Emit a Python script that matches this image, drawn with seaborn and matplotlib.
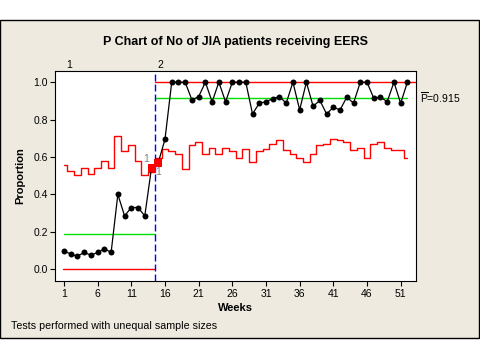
import numpy as np
import pandas as pd
import matplotlib
matplotlib.use("Agg")
import matplotlib.pyplot as plt
from matplotlib.patches import Rectangle
import seaborn as sns

# ---- data ----
weeks = list(range(1, 53))
proportion = [0.10, 0.08, 0.07, 0.09, 0.075, 0.09, 0.11, 0.09, 0.40, 0.285,
              0.33, 0.33, 0.285, 0.543,
              0.57, 0.695, 1.0, 1.0, 1.0, 0.905, 0.923, 1.0, 0.895, 1.0,
              0.895, 1.0, 1.0, 1.0, 0.83, 0.888, 0.896, 0.912, 0.923, 0.888,
              1.0, 0.852, 1.0, 0.871, 0.903, 0.83, 0.866, 0.852, 0.92, 0.888,
              1.0, 1.0, 0.915, 0.92, 0.896, 1.0, 0.888, 1.0]
stage = [1] * 14 + [2] * 38
stage_labels = ["1", "2"]
center_stage1 = 0.19
center_stage2 = 0.915
lcl_stage1 = 0.0
ucl_stage2 = 1.0
ucl_stage1 = [0.556, 0.524, 0.503, 0.540, 0.510, 0.540, 0.578, 0.540, 0.713,
              0.631, 0.666, 0.578, 0.503, 0.52]
lcl_stage2 = [0.594, 0.642, 0.634, 0.617, 0.535, 0.665, 0.679, 0.617, 0.647,
              0.617, 0.647, 0.634, 0.594, 0.642, 0.572, 0.634, 0.645, 0.668,
              0.690, 0.636, 0.615, 0.594, 0.572, 0.615, 0.665, 0.670, 0.695,
              0.690, 0.679, 0.636, 0.647, 0.594, 0.668, 0.679, 0.647, 0.636,
              0.636, 0.594]
xtick_weeks = [1, 6, 11, 16, 21, 26, 31, 36, 41, 46, 51]
ytick_vals = [0.0, 0.2, 0.4, 0.6, 0.8, 1.0]
title = "P Chart of No of JIA patients receiving EERS"
xlabel = "Weeks"
ylabel = "Proportion"
footnote = "Tests performed with unequal sample sizes"
pbar_label = r"$\overline{\mathrm{P}}$=0.915"

# ---- derived frames ----
df = pd.DataFrame({"week": weeks, "p": proportion, "stage": stage})
s1 = df[df.stage == 1].reset_index(drop=True)
s2 = df[df.stage == 2].reset_index(drop=True)
boundary = (s1.week.max() + s2.week.min()) / 2.0

s1["ucl"] = ucl_stage1
s2["lcl"] = lcl_stage2
flag = pd.concat([s1[s1.p > s1.ucl], s2[s2.p < s2.lcl]])

# step edges (steps-post)
ucl1_x = [s1.week.iloc[0]] + [w + 0.5 for w in s1.week.iloc[:-1]] + [boundary]
ucl1_y = list(s1.ucl) + [s1.ucl.iloc[-1]]
lcl2_x = [boundary] + [w + 0.5 for w in s2.week.iloc[:-1]] + [s2.week.iloc[-1]]
lcl2_y = list(s2.lcl) + [s2.lcl.iloc[-1]]

# ---- style ----
sns.set_style("ticks")
plt.rcParams["font.family"] = ["Liberation Sans", "DejaVu Sans"]
plt.rcParams["mathtext.fontset"] = "custom"
plt.rcParams["mathtext.rm"] = "Liberation Sans"
plt.rcParams["axes.linewidth"] = 0.8
plt.rcParams["text.color"] = "black"
plt.rcParams["axes.labelcolor"] = "black"
plt.rcParams["xtick.color"] = "black"
plt.rcParams["ytick.color"] = "black"

fig = plt.figure(figsize=(4.8, 3.6), dpi=100, facecolor="white")
bg = Rectangle((0.001, 0.0611), 0.996, 0.8833,
               transform=fig.transFigure, facecolor="#EEEAE0",
               edgecolor="black", linewidth=1.0, zorder=-10)
fig.patches.append(bg)
ax = fig.add_axes([0.1152, 0.2194, 0.7508, 0.5834])
ax.set_zorder(1)
ax.set_facecolor("white")

xmin, xmax = -0.29, 53.23
ax.set_xlim(xmin, xmax)
ax.set_ylim(-0.063, 1.060)

red = "#FF0000"
green = "#00E000"
lw = 1.0

# control limits and center lines
sns.lineplot(x=ucl1_x, y=ucl1_y, drawstyle="steps-post", color=red, lw=lw,
             ax=ax, estimator=None, sort=False)
sns.lineplot(x=lcl2_x, y=lcl2_y, drawstyle="steps-post", color=red, lw=lw,
             ax=ax, estimator=None, sort=False)
sns.lineplot(x=[s1.week.iloc[0] - 0.1, boundary], y=[lcl_stage1] * 2,
             color=red, lw=lw, ax=ax, estimator=None)
sns.lineplot(x=[boundary, xmax], y=[ucl_stage2] * 2, color=red, lw=lw, ax=ax,
             estimator=None)
sns.lineplot(x=[s1.week.iloc[0], boundary], y=[center_stage1] * 2,
             color=green, lw=lw, ax=ax, estimator=None)
sns.lineplot(x=[boundary, s2.week.iloc[-1]], y=[center_stage2] * 2,
             color=green, lw=lw, ax=ax, estimator=None)

ax.axvline(boundary, color="#0000FF", lw=1.0, ls=(0, (5, 2.2)), zorder=3)

# data
sns.lineplot(data=df, x="week", y="p", color="black", lw=0.9, marker="o",
             markersize=4.3, markeredgewidth=0, ax=ax, estimator=None,
             zorder=4)
sns.scatterplot(data=flag, x="week", y="p", color=red, marker="s", s=34,
                linewidth=0, ax=ax, zorder=5)

# test-failure labels
for _, r in flag.iterrows():
    if r.stage == 1:
        ax.annotate("1", (r.week, r.p), xytext=(-4, 3),
                    textcoords="offset points", color="#808080",
                    fontsize=7.5, ha="center", va="bottom")
    else:
        ax.annotate("1", (r.week, r.p), xytext=(0, -3),
                    textcoords="offset points", color="#808080",
                    fontsize=7.5, ha="center", va="top")

# stage labels above axes
trans = ax.get_xaxis_transform()
ax.text(s1.week.iloc[0] + 0.74, 1.005, stage_labels[0], transform=trans,
        ha="center", va="bottom", fontsize=7.5)
ax.text(s2.week.iloc[0] + 0.26, 1.005, stage_labels[1], transform=trans,
        ha="center", va="bottom", fontsize=7.5)

# P-bar label
ax.annotate(pbar_label, (1.0, center_stage2),
            xycoords=("axes fraction", "data"), xytext=(3, 0),
            textcoords="offset points", ha="left", va="center", fontsize=7.5,
            annotation_clip=False)

ax.set_xticks(xtick_weeks)
ax.set_xticklabels([str(w) for w in xtick_weeks])
ax.set_yticks(ytick_vals)
ax.set_yticklabels([f"{v:.1f}" for v in ytick_vals])
ax.tick_params(axis="both", direction="out", length=3.5, width=0.8,
               labelsize=7.5, pad=2, colors="black")
for sp in ax.spines.values():
    sp.set_visible(True)
    sp.set_color("black")

ax.set_xlabel(xlabel, fontsize=8, fontweight="bold", labelpad=3)
ax.set_ylabel(ylabel, fontsize=8, fontweight="bold", labelpad=6)
fig.text(0.491, 0.882, title, ha="center", va="center", fontsize=9,
         fontweight="bold")
fig.text(0.023, 0.094, footnote, ha="left", va="center", fontsize=7.7)

fig.savefig("out.png", dpi=100, facecolor="white")
